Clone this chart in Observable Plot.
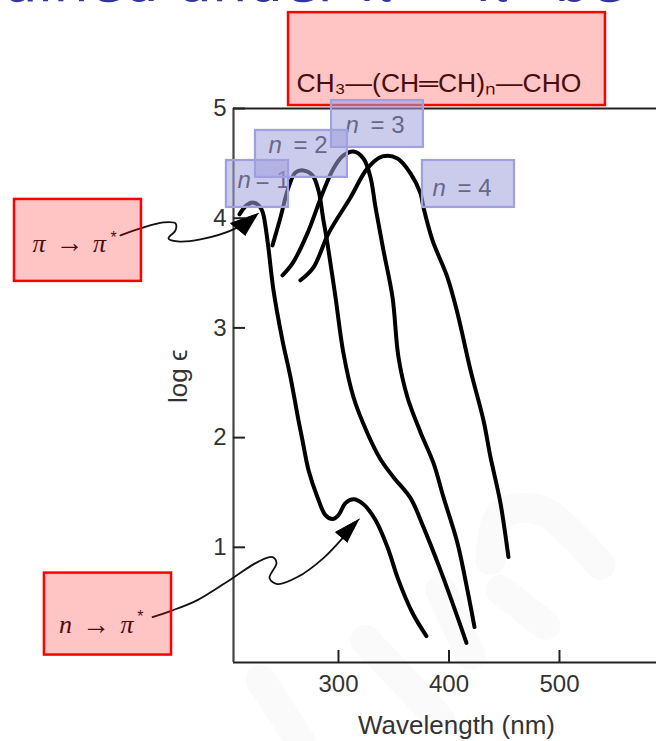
<!DOCTYPE html>
<html>
<head>
<meta charset="utf-8">
<script src="https://cdn.jsdelivr.net/npm/d3@7"></script>
<script src="https://cdn.jsdelivr.net/npm/@observablehq/plot@0.6"></script>
<style>html,body{margin:0;padding:0;background:#fff;overflow:hidden}svg{display:block}</style>
</head>
<body>
<div id="chart"></div>
<script>
// Curves: [wavelength nm, log epsilon]
const curveN1 = [[210.4,4.035],[216.7,4.117],[222.2,4.144],[227.6,4.117],[231.2,4.062],[235.7,3.798],[241.2,3.342],[249.3,2.887],[256.6,2.55],[263.8,2.158],[267.4,1.976],[272.9,1.703],[281,1.457],[288.2,1.293],[294.6,1.257],[300,1.293],[306.3,1.403],[313.6,1.439],[322.6,1.393],[333.5,1.248],[344.3,1.002],[354.3,0.701],[367,0.401],[379.6,0.191]];
const curveN2 = [[240.3,3.752],[247.5,4.007],[254.8,4.281],[261.1,4.417],[268.3,4.435],[276.5,4.39],[281.9,4.253],[286.4,3.98],[290,3.77],[297.3,3.279],[304.5,2.769],[313.6,2.368],[326.2,2.04],[338,1.803],[349.8,1.639],[365.2,1.448],[376.9,1.184],[392.3,0.792],[407.7,0.364],[415.8,0.128]];
const curveN3 = [[249.3,3.479],[258.4,3.588],[271.9,3.862],[285.5,4.226],[295.5,4.454],[304.5,4.572],[313.6,4.608],[322.6,4.545],[329,4.372],[333.5,4.098],[340.7,3.707],[348.9,3.279],[354.3,2.732],[362.4,2.368],[374.2,2.049],[386,1.767],[395,1.457],[407.7,1.038],[416.7,0.61],[423.1,0.273]];
const curveN4 = [[265.6,3.434],[277.4,3.552],[291,3.862],[310.9,4.189],[326.2,4.454],[339.8,4.563],[353.4,4.545],[365.2,4.408],[374.2,4.226],[376.9,4.098],[385.1,3.798],[398.6,3.461],[407.7,3.133],[419.5,2.614],[431.2,2.158],[437.6,1.821],[446.6,1.403],[453.8,0.911]];

// Annotation arrows
const arrowPi = [[102.7,3.843],[120.8,3.907],[141.6,3.962],[152.5,3.953],[152.5,3.889],[146.2,3.816],[154.3,3.789],[175.1,3.807],[205,3.898],[220.4,3.998]];
const arrowPiHead = [[227.6,4.044],[202.3,3.953],[215.8,3.843]];
const arrowN = [[131.7,0.364],[148,0.419],[172.4,0.519],[204.1,0.719],[226.7,0.865],[240.3,0.911],[243.9,0.856],[237.6,0.719],[244.8,0.665],[262.9,0.729],[286.4,0.902],[304.5,1.093]];
const arrowNHead = [[319,1.257],[297.3,1.138],[308.1,1.047]];

// Highlight boxes: [x1, x2, y1, y2]
const pinkBoxes = [[254.8,541.6,5.027,5.874],[6.8,121.7,3.424,4.171],[33.9,148.9,0.018,0.765]];
const blueBoxes = [[198.6,254.8,4.098,4.526],[224.9,308.1,4.372,4.8],[293.7,376.9,4.645,5.073],[376,459.3,4.098,4.526]];

// Labels
const nItalic = [[208.6,4.344],[236.7,4.663],[306.3,4.845],[385.1,4.271]];
const nValues = [[224.9,4.344,"= 1"],[259.3,4.663,"= 2"],[329,4.845,"= 3"],[407.7,4.271,"= 4"]];
const greek = [[29,3.77,"π"],[83.7,3.77,"π"],[52.9,0.291,"n"],[108.6,0.291,"π"]];
const stars = [[96.4,3.82,"*"],[120.8,0.37,"*"]];
const arrowGlyphs = [[56.6,3.77],[80.5,0.291]];
const formula = "CH₃—(CH═CH)ₙ—CHO";
const formulaAt = [262,5.23];
const headline = "ained under π → π* be";
const xTicks = [300,400,500];
const yTicks = [1,2,3,4,5];

// Faint watermark strokes
const watermark = [
  [[229.4,-0.209],[265.6,-0.765]],
  [[324.4,0.155],[392.3,-0.574]],
  [[392.3,0.61],[419.5,0.018]],
  [[437.6,0.883],[446.6,1.293],[482.8,1.339],[537.1,0.838]],
  [[446.6,0.61],[487.3,0.291]]
];

const [X,Y] = [d=>d[0], d=>d[1]];
const curve = d => Plot.line(d,{x:X,y:Y,curve:"catmull-rom",stroke:"#000",strokeWidth:4,strokeLinecap:"round"});
const thin = d => Plot.line(d,{x:X,y:Y,curve:"catmull-rom",stroke:"#111",strokeWidth:1.8});
const head = d => Plot.line(d,{x:X,y:Y,fill:"#000",stroke:"#000",strokeWidth:1});
const boxes = (d,o) => Plot.rect(d,{x1:d=>d[0],x2:d=>d[1],y1:d=>d[2],y2:d=>d[3],...o});

const chart = Plot.plot({
  width:656, height:741,
  marginLeft:233, marginRight:0, marginTop:108, marginBottom:79,
  style:{background:"#fff",fontFamily:"'Liberation Sans',Arial,sans-serif",overflow:"hidden"},
  x:{domain:[205,587.8]},
  y:{domain:[-0.05,5]},
  marks:[
    ...watermark.map(w=>Plot.line(w,{x:X,y:Y,stroke:"#fafafa",strokeWidth:30,curve:"catmull-rom"})),
    Plot.ruleY([5],{stroke:"#222",strokeWidth:2}),
    Plot.ruleY([-0.05],{stroke:"#222",strokeWidth:2.2}),
    Plot.ruleX([205],{stroke:"#444",strokeWidth:2.2}),
    Plot.axisX({ticks:xTicks,tickSize:-12,tickPadding:24,tickFormat:d=>d,label:null,fontSize:24,stroke:"#222",strokeWidth:2,fill:"#333"}),
    Plot.axisY({ticks:yTicks,tickSize:-12,tickPadding:19,tickFormat:d=>d,label:null,fontSize:24,stroke:"#222",strokeWidth:2,fill:"#333"}),
    Plot.text(["Wavelength (nm)"],{x:406.8,y:-0.63,fontSize:26,fill:"#333"}),
    Plot.text(["log ϵ"],{x:155.2,y:2.559,rotate:-90,fontSize:26,fill:"#333"}),
    Plot.text([headline],{x:-3.2,y:5.98,textAnchor:"start",lineAnchor:"bottom",fontSize:56,fontFamily:"'DejaVu Sans'",fill:"#333399"}),
    curve(curveN1),curve(curveN2),curve(curveN3),curve(curveN4),
    thin(arrowPi),head(arrowPiHead),thin(arrowN),head(arrowNHead),
    Plot.text([formula],{x:formulaAt[0],y:formulaAt[1],textAnchor:"start",fontSize:26.5,fill:"#111"}),
    Plot.text(greek,{x:X,y:Y,text:d=>d[2],fontFamily:"'Liberation Serif'",fontStyle:"italic",fontSize:26,fill:"#111"}),
    Plot.text(stars,{x:X,y:Y,text:d=>d[2],fontSize:16,fill:"#111"}),
    Plot.text(arrowGlyphs,{x:X,y:Y,text:()=>"→",fontSize:28,fill:"#111"}),
    boxes(pinkBoxes,{fill:"#ff0000",fillOpacity:0.23,stroke:"#ff0000",strokeWidth:2.5}),
    Plot.text(nItalic,{x:X,y:Y,text:()=>"n",textAnchor:"start",fontStyle:"italic",fontSize:24,fill:"#222"}),
    Plot.text(nValues,{x:X,y:Y,text:d=>d[2],textAnchor:"start",fontSize:24,fill:"#222"}),
    boxes(blueBoxes,{fill:"#a0a0dd",fillOpacity:0.55,stroke:"#a0a0e0",strokeWidth:2.2})
  ]
});
document.getElementById("chart").append(chart);
</script>
</body>
</html>
